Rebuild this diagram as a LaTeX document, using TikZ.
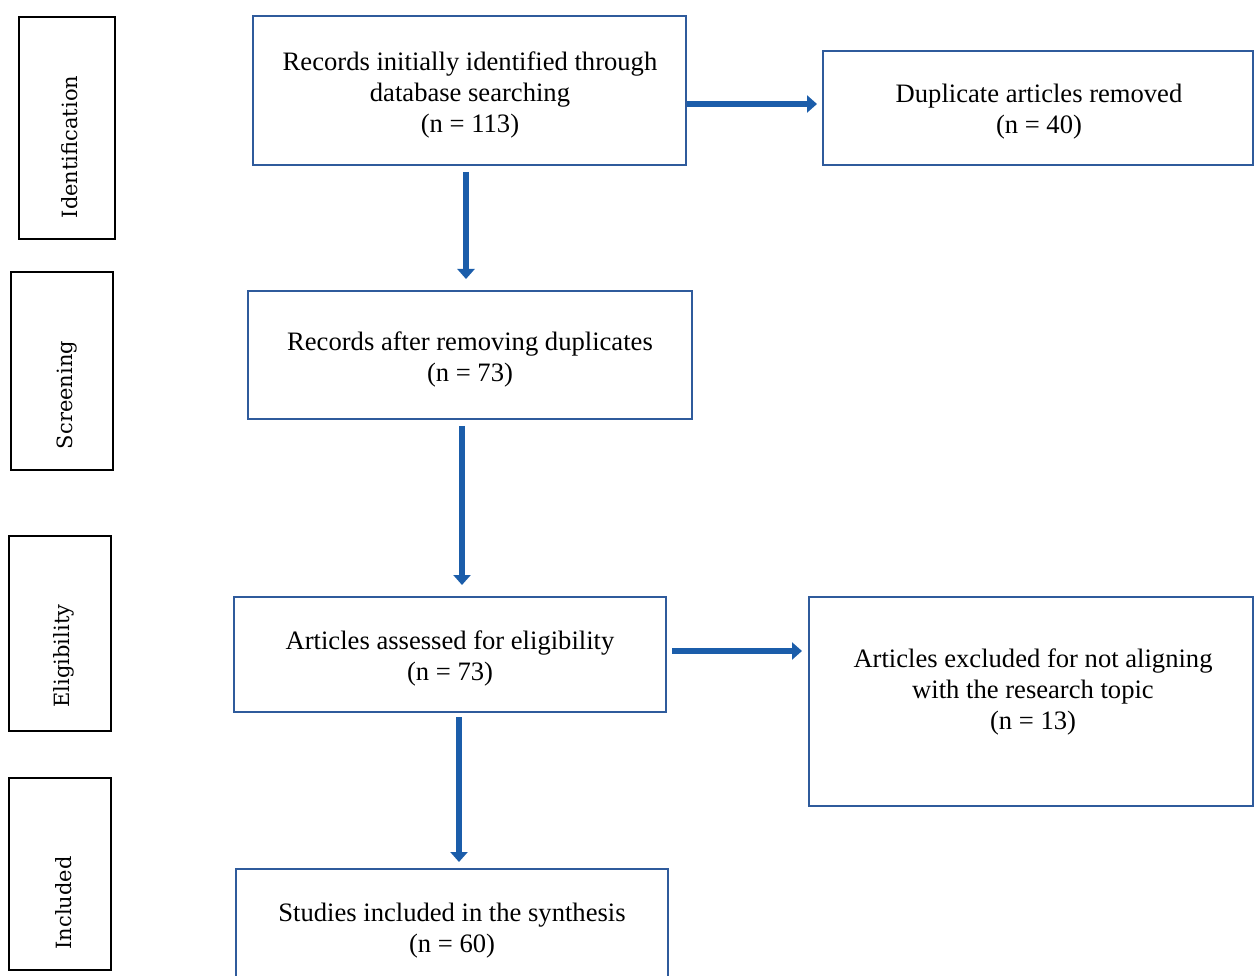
\documentclass[tikz,border=0pt]{standalone}
\usepackage{fontspec}
\setmainfont{Liberation Serif}
\newfontfamily\sidefont{DejaVu Serif}
\usetikzlibrary{arrows.meta}
\definecolor{boxblue}{HTML}{2F5B9C}
\definecolor{arrblue}{HTML}{1B5DAA}
\tikzset{
  mainbox/.style={draw=boxblue, line width=2pt, inner sep=0pt},
  sidebox/.style={draw=black, line width=2.5pt, inner sep=0pt},
  sidetext/.style={rotate=90, font=\sidefont\fontsize{21}{25}\selectfont, inner sep=0pt},
  arr/.style={draw=arrblue, line width=6.5pt, -{Triangle[width=17pt,length=10pt]}},
  plain/.style={align=center, inner sep=0pt, font=\fontsize{26.6}{31}\selectfont}
}
\begin{document}
\begin{tikzpicture}[x=1pt,y=-1pt]
\useasboundingbox (0,0) rectangle (1254,976);
% side labels
\node[sidebox, minimum width=96pt, minimum height=222pt] (s1) at (67,128) {};
\node[sidetext] (t1) at (70,147) {Identification};
\node[sidebox, minimum width=102pt, minimum height=198pt] (s2) at (62,371) {};
\node[sidetext] (t2) at (67,395) {Screening};
\node[sidebox, minimum width=102pt, minimum height=195pt] (s3) at (60,633.5) {};
\node[sidetext] (t3) at (64,656) {Eligibility};
\node[sidebox, minimum width=102pt, minimum height=192pt] (s4) at (60,874) {};
\node[sidetext] (t4) at (64,903) {Included};
% main boxes
\node[mainbox, minimum width=433pt, minimum height=149pt] (b1) at (469.5,90.5) {};
\node[plain] (b1t) at (470,94.5)
  {Records initially identified through\\database searching\\(n = 113)};
\node[mainbox, minimum width=430pt, minimum height=114pt] (dup) at (1038,108) {};
\node[plain] (dupt) at (1039,112)
  {Duplicate articles removed\\(n = 40)};
\node[mainbox, minimum width=444pt, minimum height=128pt] (b2) at (470,355) {};
\node[plain] (b2t) at (470,359)
  {Records after removing duplicates\\(n = 73)};
\node[mainbox, minimum width=432pt, minimum height=115pt] (b3) at (450,654.5) {};
\node[plain] (b3t) at (450,658)
  {Articles assessed for eligibility\\(n = 73)};
\node[mainbox, minimum width=444pt, minimum height=209pt] (ex) at (1031,701.5) {};
\node[plain] (ext) at (1033,692)
  {Articles excluded for not aligning\\with the research topic\\(n = 13)};
\node[mainbox, minimum width=432pt, minimum height=116pt] (b4) at (452,927) {};
\node[plain] (b4t) at (452,931)
  {Studies included in the synthesis\\(n = 60)};
% arrows
\draw[arr, shorten <=6pt, shorten >=11pt] ([xshift=-3.5pt]b1.south) -- ([xshift=-3.5pt]b1.south |- b2.north);
\draw[arr, shorten <=6pt, shorten >=11pt] ([xshift=-8pt]b2.south) -- ([xshift=-8pt]b2.south |- b3.north);
\draw[arr, shorten <=4pt, shorten >=6pt] ([xshift=9pt]b3.south) -- ([xshift=9pt]b3.south |- b4.north);
\draw[arr, shorten >=5pt] ([yshift=-13.5pt]b1.east) -- ([yshift=-13.5pt]b1.east -| dup.west);
\draw[arr, shorten <=5pt, shorten >=6pt] ([yshift=3.5pt]b3.east) -- ([yshift=3.5pt]b3.east -| ex.west);
\end{tikzpicture}
\end{document}
